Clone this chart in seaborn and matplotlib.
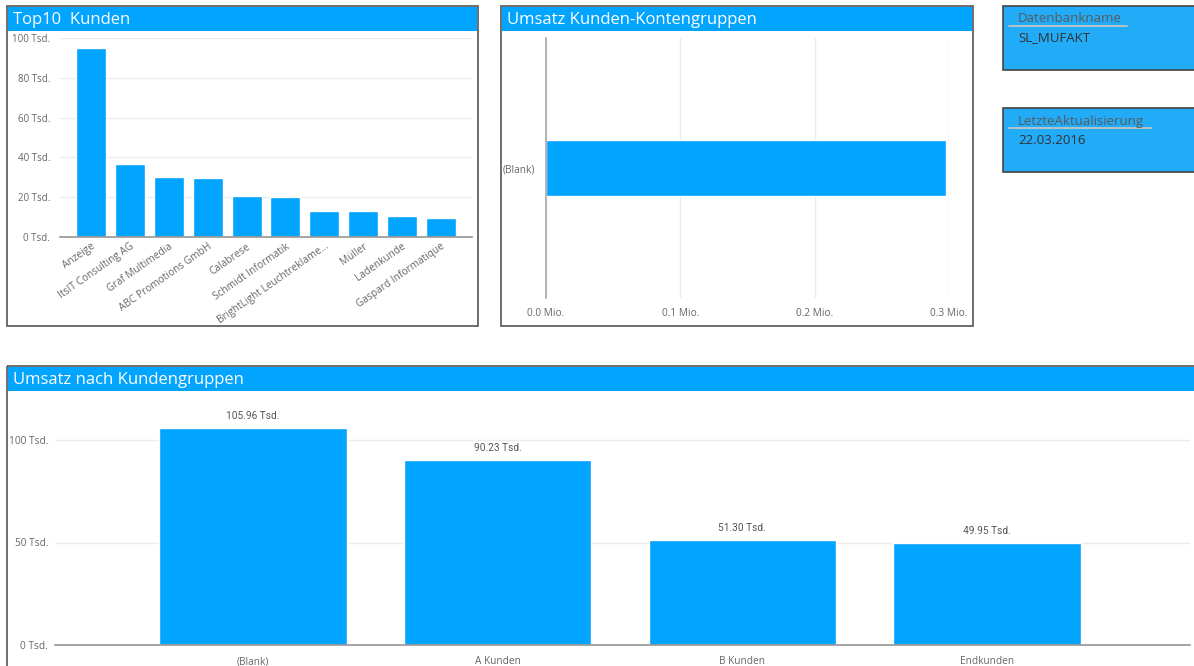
import numpy as np
import pandas as pd
import matplotlib
matplotlib.use("Agg")
import matplotlib.pyplot as plt
from matplotlib.patches import Rectangle
from matplotlib.lines import Line2D
import seaborn as sns

# ---------------- data ----------------
top10_kunden = ["Anzeige", "ItsIT Consulting AG", "Graf Multimedia", "ABC Promotions GmbH",
                "Calabrese", "Schmidt Informatik", "BrightLight Leuchtreklame...", "Müller",
                "Ladenkunde", "Gaspard Informatique"]
top10_umsatz_tsd = [95.0, 36.7, 30.2, 29.6, 20.6, 20.2, 13.2, 12.9, 10.6, 9.5]
top10_yticks = [0, 20, 40, 60, 80, 100]

konten_gruppen = ["(Blank)"]
konten_umsatz_tsd = [297.44]
konten_xticks_tsd = [0, 100, 200, 300]

kunden_gruppen = ["(Blank)", "A Kunden", "B Kunden", "Endkunden"]
kunden_gruppen_umsatz_tsd = [105.96, 90.23, 51.30, 49.95]
gruppen_yticks = [0, 50, 100]

card_titles = ["Datenbankname", "LetzteAktualisierung"]
card_values = ["SL_MUFAKT", "22.03.2016"]

# ---------------- style ----------------
sns.set_theme(style="white")
plt.rcParams["font.family"] = ["Open Sans", "DejaVu Sans"]

W, H = 1194, 666
BLUE = "#01A4FE"
CARD = "#22ABF7"
FRAME = "#555555"
GRID = "#ECECEC"
TICK = "#666666"

fig = plt.figure(figsize=(W / 100, H / 100), dpi=100)
fig.patch.set_facecolor("white")

bg = fig.add_axes([0, 0, 1, 1], zorder=-1)
bg.set_xlim(0, W)
bg.set_ylim(H, 0)
bg.axis("off")


def ax_px(x0, y0, x1, y1):
    return fig.add_axes([x0 / W, 1 - y1 / H, (x1 - x0) / W, (y1 - y0) / H])


def panel(x0, y0, x1, y1, title, hh=24):
    bg.add_patch(Rectangle((x0, y0), x1 - x0, y1 - y0, fill=False, ec=FRAME, lw=1.2))
    bg.add_patch(Rectangle((x0 + 1, y0 + 1), x1 - x0 - 2, hh, fc=BLUE, ec="none"))
    bg.text(x0 + 6, y0 + 1 + hh / 2 + 1, title, color="white", fontsize=12, va="center", ha="left")


panel(7, 6, 478, 326, "Top10  Kunden")
panel(501, 6, 973, 326, "Umsatz Kunden-Kontengruppen")
panel(7, 366, 1196, 668, "Umsatz nach Kundengruppen")

# cards
for i, (t, v) in enumerate(zip(card_titles, card_values)):
    y0 = 6 + i * 102
    bg.add_patch(Rectangle((1003, y0), 200, 64, fc=CARD, ec="#444444", lw=1.2))
    bg.text(1018, y0 + 13, t, color="#5a5a5a", fontsize=9.5, va="center", ha="left")
    tw = 118 if i == 0 else 142
    bg.add_line(Line2D([1009, 1009 + tw], [y0 + 20, y0 + 20], color="#c4c4c4", lw=1.3))
    bg.text(1018, y0 + 32, v, color="#333333", fontsize=9.5, va="center", ha="left")

# ---------------- Top10 Kunden ----------------
ax1 = ax_px(60, 38, 472, 237)
df1 = pd.DataFrame({"Kunde": top10_kunden, "Umsatz": top10_umsatz_tsd})
sns.barplot(data=df1, x="Kunde", y="Umsatz", color=BLUE, saturation=1, width=0.77, ax=ax1)
ax1.set_xlim(-0.8, 9.8)
ax1.set_ylim(0, 100)
ax1.set_yticks(top10_yticks)
ax1.set_yticklabels([f"{v} Tsd." for v in top10_yticks])
ax1.yaxis.grid(True, color=GRID, lw=1)
ax1.set_axisbelow(True)
for s in ["top", "right", "left"]:
    ax1.spines[s].set_visible(False)
ax1.spines["bottom"].set_color("#999999")
ax1.tick_params(axis="y", length=0, pad=7, labelsize=7, labelcolor=TICK)
ax1.tick_params(axis="x", length=0, pad=3, labelsize=7.3, labelcolor=TICK)
for lab in ax1.get_xticklabels():
    lab.set_rotation(35)
    lab.set_ha("right")
    lab.set_rotation_mode("anchor")
ax1.set_xlabel("")
ax1.set_ylabel("")

# ---------------- Umsatz Kunden-Kontengruppen ----------------
ax2 = ax_px(546, 38, 949, 298)
df2 = pd.DataFrame({"Gruppe": konten_gruppen, "Umsatz": konten_umsatz_tsd})
sns.barplot(data=df2, x="Umsatz", y="Gruppe", orient="h", color=BLUE, saturation=1, width=0.8, ax=ax2)
ax2.set_xlim(0, 300)
ax2.set_ylim(1.89, -1.89)
ax2.set_xticks(konten_xticks_tsd)
ax2.set_xticklabels([f"{v / 1000:.1f} Mio." for v in konten_xticks_tsd])
ax2.xaxis.grid(True, color=GRID, lw=1)
ax2.set_axisbelow(True)
for s in ["top", "right", "bottom"]:
    ax2.spines[s].set_visible(False)
ax2.spines["left"].set_color("#aaaaaa")
ax2.tick_params(axis="both", length=0, labelsize=7.3, labelcolor=TICK)
ax2.tick_params(axis="x", pad=7)
ax2.tick_params(axis="y", pad=8)
ax2.set_xlabel("")
ax2.set_ylabel("")

# ---------------- Umsatz nach Kundengruppen ----------------
ax3 = ax_px(55, 399, 1190, 645)
df3 = pd.DataFrame({"Gruppe": kunden_gruppen, "Umsatz": kunden_gruppen_umsatz_tsd})
sns.barplot(data=df3, x="Gruppe", y="Umsatz", color=BLUE, saturation=1, width=0.766, ax=ax3)
ax3.set_xlim(-0.81, 3.83)
ax3.set_ylim(0, 120)
ax3.set_yticks(gruppen_yticks)
ax3.set_yticklabels([f"{v} Tsd." for v in gruppen_yticks])
ax3.yaxis.grid(True, color=GRID, lw=1)
ax3.set_axisbelow(True)
for s in ["top", "right", "left"]:
    ax3.spines[s].set_visible(False)
ax3.spines["bottom"].set_color("#999999")
ax3.tick_params(axis="both", length=0, labelsize=7.3, labelcolor=TICK)
ax3.tick_params(axis="y", pad=5)
ax3.tick_params(axis="x", pad=8)
ax3.bar_label(ax3.containers[0], labels=[f"{v:.2f} Tsd." for v in kunden_gruppen_umsatz_tsd],
              padding=5, fontsize=7.3, color="#555555", family=["Roboto", "DejaVu Sans"])
ax3.set_xlabel("")
ax3.set_ylabel("")

fig.savefig("out.png", dpi=100, facecolor="white")
